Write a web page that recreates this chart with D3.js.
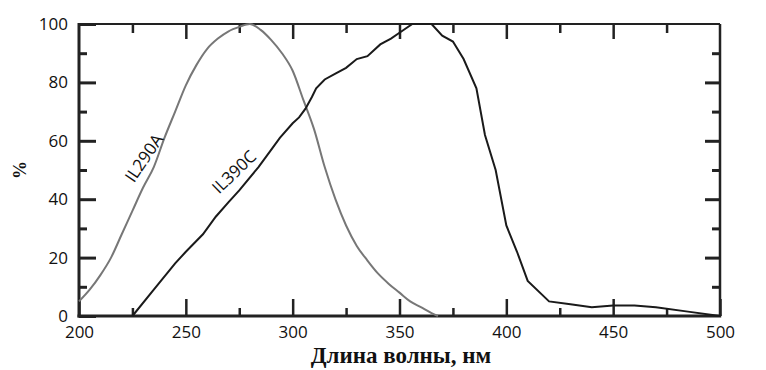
<!DOCTYPE html>
<html>
<head>
<meta charset="utf-8">
<script src="https://cdn.jsdelivr.net/npm/d3@7"></script>
<style>
  body { margin: 0; background: #fff; }
  svg { display: block; }
</style>
</head>
<body>
<svg id="chart" width="766" height="370"></svg>
<script>
// wavelength (nm) and relative response (%)
var il290Wave = [200, 205, 210, 215, 220, 225, 230, 235, 240, 245, 250, 255, 260, 265, 270, 275, 280, 285, 290, 295, 300, 305, 310, 315, 320, 325, 330, 335, 340, 345, 350, 355, 360, 365, 368];
var il290Val  = [5, 9, 14, 20, 28, 36, 44, 51, 61, 70, 79, 86, 91.5, 95, 97.5, 99, 100, 98, 94.5, 90, 84, 74, 64, 51, 40, 31, 24, 19, 14.5, 11, 8, 5, 3, 1, 0];

var il390Wave = [225, 235, 245, 250, 258, 264, 270, 275, 284, 290, 294, 300, 303, 306, 309, 311, 315, 320, 325, 330, 335, 341, 346, 350, 356, 365, 370, 375, 380, 386, 390, 395, 400, 405, 410, 420, 430, 440, 450, 460, 470, 485, 500];
var il390Val  = [0, 9, 18, 22, 28, 34, 39, 43, 51, 57, 61, 66, 68, 71, 75, 78, 81, 83, 85, 88, 89, 93, 95, 97, 100, 100, 96, 94, 88, 78, 62, 50, 31, 22, 12, 5, 4, 3, 3.6, 3.6, 3, 1.5, 0];

var xMajor = [200, 250, 300, 350, 400, 450, 500];
var xMinor = [225, 275, 325, 375, 425, 475];
var yMajor = [0, 20, 40, 60, 80, 100];
var yMinor = [10, 30, 50, 70, 90];

var svg = d3.select("#chart");
var x = d3.scaleLinear().domain([200, 500]).range([79, 720]);
var y = d3.scaleLinear().domain([0, 100]).range([316, 24]);

var axisColor = "#222";

function styleAxis(g, w) {
	g.select(".domain").remove();
	g.selectAll(".tick line").attr("stroke", axisColor).attr("stroke-width", w);
	g.selectAll(".tick text")
		.attr("fill", "#111")
		.style("font-family", "'Open Sans', sans-serif")
		.style("font-size", "17px");
}

// bottom ticks
svg.append("g").attr("transform", "translate(0," + y(0) + ")")
	.call(d3.axisBottom(x).tickValues(xMajor).tickSizeInner(-17).tickSizeOuter(0).tickPadding(10).tickFormat(d3.format("d")))
	.call(styleAxis, 2.5);
svg.append("g").attr("transform", "translate(0," + y(0) + ")")
	.call(d3.axisBottom(x).tickValues(xMinor).tickSizeInner(-8).tickSizeOuter(0).tickFormat(""))
	.call(styleAxis, 2.5);

// top ticks
svg.append("g").attr("transform", "translate(0," + y(100) + ")")
	.call(d3.axisTop(x).tickValues(xMajor.slice(1, -1)).tickSizeInner(-15).tickSizeOuter(0).tickFormat(""))
	.call(styleAxis, 2.5);
svg.append("g").attr("transform", "translate(0," + y(100) + ")")
	.call(d3.axisTop(x).tickValues(xMinor).tickSizeInner(-9).tickSizeOuter(0).tickFormat(""))
	.call(styleAxis, 2.5);

// left ticks
svg.append("g").attr("transform", "translate(" + x(200) + ",0)")
	.call(d3.axisLeft(y).tickValues(yMajor).tickSizeInner(-17).tickSizeOuter(0).tickPadding(11))
	.call(styleAxis, 3);
svg.append("g").attr("transform", "translate(" + x(200) + ",0)")
	.call(d3.axisLeft(y).tickValues(yMinor).tickSizeInner(-8).tickSizeOuter(0).tickFormat(""))
	.call(styleAxis, 3);

// right ticks
svg.append("g").attr("transform", "translate(" + x(500) + ",0)")
	.call(d3.axisRight(y).tickValues(yMajor.slice(1, -1)).tickSizeInner(-15).tickSizeOuter(0).tickFormat(""))
	.call(styleAxis, 3);
svg.append("g").attr("transform", "translate(" + x(500) + ",0)")
	.call(d3.axisRight(y).tickValues(yMinor).tickSizeInner(-8).tickSizeOuter(0).tickFormat(""))
	.call(styleAxis, 3);

// frame: bottom and left heavier than top and right
svg.append("line").attr("x1", x(200)).attr("x2", x(500)).attr("y1", y(100)).attr("y2", y(100))
	.attr("stroke", axisColor).attr("stroke-width", 2);
svg.append("line").attr("x1", x(500)).attr("x2", x(500)).attr("y1", y(100)).attr("y2", y(0))
	.attr("stroke", axisColor).attr("stroke-width", 2.5);
svg.append("line").attr("x1", x(200) - 1.5).attr("x2", x(500) + 1.2).attr("y1", y(0)).attr("y2", y(0))
	.attr("stroke", axisColor).attr("stroke-width", 3);
svg.append("line").attr("x1", x(200)).attr("x2", x(200)).attr("y1", y(100) - 1).attr("y2", y(0) + 1.5)
	.attr("stroke", axisColor).attr("stroke-width", 3);

// curves
var line = d3.line()
	.x(function(d) { return x(d[0]); })
	.y(function(d) { return y(d[1]); })
	.curve(d3.curveMonotoneX);

svg.append("path")
	.datum(d3.zip(il290Wave, il290Val))
	.attr("d", line)
	.attr("fill", "none")
	.attr("stroke", "#777")
	.attr("stroke-width", 2);

svg.append("path")
	.datum(d3.zip(il390Wave, il390Val))
	.attr("d", line.curve(d3.curveLinear))
	.attr("fill", "none")
	.attr("stroke", "#1a1a1a")
	.attr("stroke-width", 2);

// curve labels
svg.append("text")
	.attr("transform", "translate(144,158) rotate(-56)")
	.attr("text-anchor", "middle")
	.attr("dy", "0.35em")
	.style("font-family", "'Open Sans', sans-serif")
	.style("font-size", "17px")
	.attr("fill", "#111")
	.text("IL290A");

svg.append("text")
	.attr("transform", "translate(234,172) rotate(-44)")
	.attr("text-anchor", "middle")
	.attr("dy", "0.35em")
	.style("font-family", "'Open Sans', sans-serif")
	.style("font-size", "17px")
	.attr("fill", "#111")
	.text("IL390C");

// axis titles
svg.append("text")
	.attr("x", 401)
	.attr("y", 363)
	.attr("text-anchor", "middle")
	.style("font-family", "'Liberation Serif', 'Times New Roman', serif")
	.style("font-weight", "bold")
	.style("font-size", "23px")
	.attr("fill", "#111")
	.text("Длина волны, нм");

svg.append("text")
	.attr("transform", "translate(26,170) rotate(-90)")
	.attr("text-anchor", "middle")
	.style("font-family", "'Liberation Serif', 'Times New Roman', serif")
	.style("font-weight", "bold")
	.style("font-size", "18px")
	.attr("fill", "#111")
	.text("%");
</script>
</body>
</html>
